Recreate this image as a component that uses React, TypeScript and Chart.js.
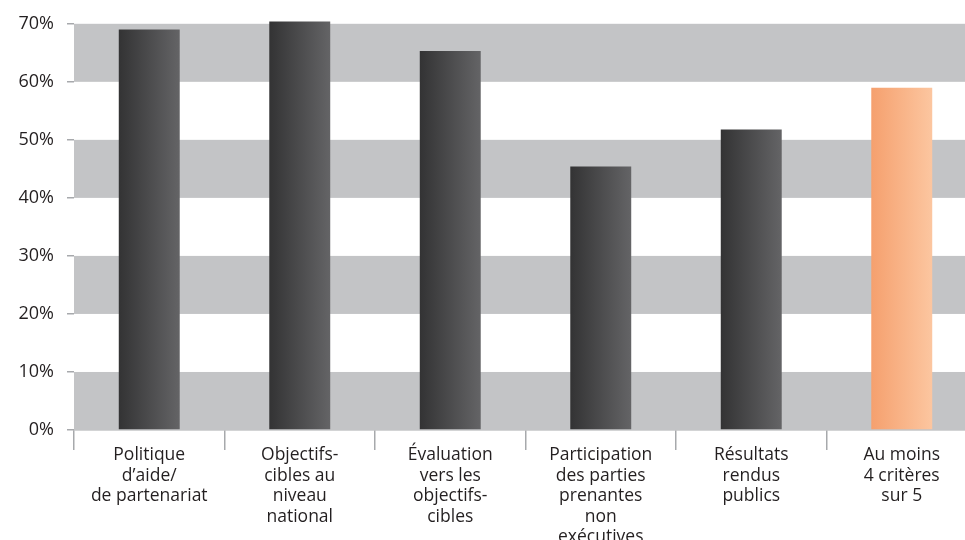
import React, { useEffect, useRef } from "react";
import { Chart, registerables } from "chart.js";

Chart.register(...registerables);

const categories: string[][] = [
  ["Politique", "d’aide/", "de partenariat"],
  ["Objectifs-", "cibles au", "niveau", "national"],
  ["Évaluation", "vers les", "objectifs-", "cibles"],
  ["Participation", "des parties", "prenantes", "non", "exécutives"],
  ["Résultats", "rendus", "publics"],
  ["Au moins", "4 critères", "sur 5"],
];

const shares: number[] = [69.0, 70.4, 65.3, 45.4, 51.8, 59.0];

// the last column is the summary one, drawn in orange
const highlight: boolean[] = [false, false, false, false, false, true];

const yTicks: number[] = [0, 10, 20, 30, 40, 50, 60, 70];

const BAR_FRACTION = 0.405;
const FONT = "'Open Sans', 'DejaVu Sans', sans-serif";
const TEXT = "#231f20";
const AXIS = "#a7a9ac";
const BAND = "#c3c4c6";

// alternate grey horizontal bands behind the bars
const bandsPlugin = {
  id: "bands",
  beforeDatasetsDraw(chart: any) {
    const { ctx, chartArea, scales } = chart;
    const y = scales.y;
    ctx.save();
    ctx.fillStyle = BAND;
    for (let i = 0; i < yTicks.length - 1; i += 2) {
      const top = y.getPixelForValue(yTicks[i + 1]);
      const bottom = y.getPixelForValue(yTicks[i]);
      ctx.fillRect(chartArea.left, top, chartArea.right - chartArea.left, bottom - top);
    }
    ctx.restore();
  },
};

export default function App() {
  const ref = useRef<HTMLCanvasElement | null>(null);

  useEffect(() => {
    if (!ref.current) return;
    const chart = new Chart(ref.current, {
      type: "bar",
      data: {
        labels: categories,
        datasets: [
          {
            data: shares,
            clip: false,
            barPercentage: BAR_FRACTION,
            categoryPercentage: 1,
            borderWidth: 0,
            backgroundColor: (c: any) => {
              const ch = c.chart;
              const xs = ch.scales?.x;
              const hot = highlight[c.dataIndex];
              if (!xs || !ch.chartArea) return hot ? "#f8b084" : "#4a4a4c";
              const cx = xs.getPixelForValue(c.dataIndex);
              const w = ((ch.chartArea.right - ch.chartArea.left) / categories.length) * BAR_FRACTION;
              const g = ch.ctx.createLinearGradient(cx - w / 2, 0, cx + w / 2, 0);
              if (hot) {
                g.addColorStop(0, "#f5a06e");
                g.addColorStop(1, "#fcc6a0");
              } else {
                g.addColorStop(0, "#333334");
                g.addColorStop(1, "#646466");
              }
              return g;
            },
          },
        ],
      },
      options: {
        animation: false,
        responsive: false,
        layout: { padding: { top: 15, right: 8, left: 0, bottom: 0 } },
        plugins: { legend: { display: false }, tooltip: { enabled: false } },
        scales: {
          x: {
            offset: true,
            grid: {
              offset: true,
              drawOnChartArea: false,
              tickLength: 20,
              color: AXIS,
              lineWidth: 1.5,
            },
            border: { display: true, color: AXIS, width: 1.5 },
            ticks: {
              color: TEXT,
              font: { family: FONT, size: 17.5, lineHeight: 1.17 },
              padding: -5,
              maxRotation: 0,
              autoSkip: false,
            },
            afterFit: (s: any) => {
              s.height = 110;
            },
          },
          y: {
            min: 0,
            max: 70,
            afterBuildTicks: (s: any) => {
              s.ticks = yTicks.map((v) => ({ value: v }));
            },
            grid: {
              drawOnChartArea: false,
              tickLength: 7,
              color: AXIS,
              lineWidth: 1.5,
            },
            border: { display: false },
            ticks: {
              color: TEXT,
              font: { family: FONT, size: 18 },
              padding: 13,
              callback: (v: any) => `${v}%`,
            },
            afterFit: (s: any) => {
              s.width = 74;
            },
          },
        },
      },
      plugins: [bandsPlugin],
    });
    return () => chart.destroy();
  }, []);

  return (
    <div
      style={{
        position: "fixed",
        left: 0,
        top: 0,
        width: 965,
        height: 540,
        overflow: "hidden",
        background: "#fff",
      }}
    >
      <canvas ref={ref} width={985} height={540} style={{ display: "block" }} />
    </div>
  );
}
